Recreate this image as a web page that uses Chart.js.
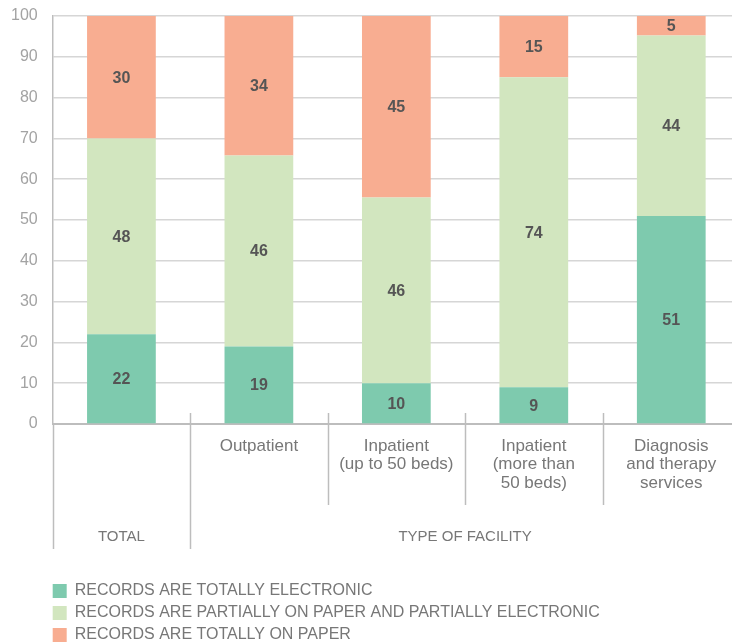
<!DOCTYPE html>
<html>
<head>
<meta charset="utf-8">
<title>Medical records by type of facility</title>
<script src="https://cdn.jsdelivr.net/npm/chart.js@4/dist/chart.umd.min.js"></script>
<style>
  html, body { margin: 0; padding: 0; background: #fff; overflow: hidden; }
  #chartArea { position: relative; width: 732px; height: 642px; overflow: hidden; }
  #myChart { position: absolute; left: 0; top: 0; }
</style>
</head>
<body>
<div id="chartArea"><canvas id="myChart" width="740" height="642"></canvas></div>
<script>
// ========================================
// Data
// ========================================
const categories = [
  '',
  'Outpatient',
  ['Inpatient', '(up to 50 beds)'],
  ['Inpatient', '(more than', '50 beds)'],
  ['Diagnosis', 'and therapy', 'services']
];

// group row under the tick labels
const groupLabels = ['TOTAL', 'TYPE OF FACILITY'];
const groupFrom = [0, 1];
const groupTo = [0, 4];

const seriesNames = [
  'RECORDS ARE TOTALLY ELECTRONIC',
  'RECORDS ARE PARTIALLY ON PAPER AND PARTIALLY ELECTRONIC',
  'RECORDS ARE TOTALLY ON PAPER'
];

// segment heights as drawn in the picture
const electronic = [22, 19, 10, 9, 51];
const partial = [48, 46.8, 45.5, 76, 44.2];
const paper = [30, 34.2, 44.5, 15, 4.8];

// numbers printed on the segments
const electronicLabels = [22, 19, 10, 9, 51];
const partialLabels = [48, 46, 46, 74, 44];
const paperLabels = [30, 34, 45, 15, 5];

const FONT = "'Liberation Sans', Arial, sans-serif";
const LINE = '#bdbdbd';

// ========================================
// Plugins
// ========================================
const valueLabels = {
  id: 'valueLabels',
  afterDatasetsDraw(chart) {
    const ctx = chart.ctx;
    ctx.save();
    ctx.font = 'bold 16px ' + FONT;
    ctx.fillStyle = '#555';
    ctx.textAlign = 'center';
    ctx.textBaseline = 'middle';
    chart.data.datasets.forEach((ds, di) => {
      chart.getDatasetMeta(di).data.forEach((bar, i) => {
        ctx.fillText(String(ds.printed[i]), bar.x, (bar.y + bar.base) / 2 + 1);
      });
    });
    ctx.restore();
  }
};

// separators below the axis + TOTAL / TYPE OF FACILITY row
const groupRow = {
  id: 'groupRow',
  afterDraw(chart) {
    const ctx = chart.ctx;
    const x = chart.scales.x;
    const area = chart.chartArea;
    const edge = i => i === 0 ? area.left : (x.getPixelForValue(i - 1) + x.getPixelForValue(i)) / 2;
    const groupStarts = groupFrom.map(edge);

    ctx.save();
    ctx.strokeStyle = LINE;
    ctx.lineWidth = 1.5;
    for (let i = 0; i < categories.length; i++) {
      const px = Math.round(edge(i)) + 0.5;
      const isGroupEdge = groupStarts.some(g => Math.abs(g - edge(i)) < 0.5);
      ctx.beginPath();
      ctx.moveTo(px, i === 0 ? area.bottom : area.bottom - 11);
      ctx.lineTo(px, isGroupEdge ? area.bottom + 125 : area.bottom + 81);
      ctx.stroke();
    }

    ctx.font = '15px ' + FONT;
    ctx.fillStyle = '#777';
    ctx.textAlign = 'center';
    ctx.textBaseline = 'middle';
    groupLabels.forEach((label, g) => {
      const left = edge(groupFrom[g]);
      const right = groupTo[g] + 1 < categories.length ? edge(groupTo[g] + 1) : x.right;
      ctx.fillText(label, (left + right) / 2, area.bottom + 113);
    });
    ctx.restore();
  }
};

// legend starts under the y axis instead of the canvas edge
const legendShift = {
  id: 'legendShift',
  afterLayout(chart) {
    const lg = chart.legend;
    const shift = chart.chartArea.left - lg.left - lg.options.labels.padding;
    lg.left += shift;
    lg.right += shift;
  }
};

// ========================================
// Chart
// ========================================
document.addEventListener('DOMContentLoaded', () => {
  const ctx = document.getElementById('myChart');

  new Chart(ctx, {
    type: 'bar',
    data: {
      labels: categories,
      datasets: [
        { label: seriesNames[0], data: electronic, printed: electronicLabels, backgroundColor: '#7ecaae' },
        { label: seriesNames[1], data: partial, printed: partialLabels, backgroundColor: '#d2e6bf' },
        { label: seriesNames[2], data: paper, printed: paperLabels, backgroundColor: '#f8ad91' }
      ]
    },
    options: {
      responsive: false,
      animation: false,
      layout: { padding: { top: 16, left: -4, right: 0, bottom: -11 } },
      datasets: {
        bar: { barPercentage: 0.5, categoryPercentage: 1, borderWidth: 0 }
      },
      scales: {
        x: {
          stacked: true,
          grid: { display: false, drawTicks: false },
          border: { display: true, color: LINE, width: 2 },
          ticks: { color: '#777', padding: 13, maxRotation: 0, font: { family: FONT, size: 17, lineHeight: 1.08 } },
          afterFit: axis => { axis.height = 153; }
        },
        y: {
          stacked: true,
          min: 0,
          max: 100,
          grid: { color: '#d6d6d6', lineWidth: 1.5, drawTicks: false },
          border: { display: true, color: LINE, width: 1.5 },
          // tiny lineHeight keeps the label half-height out of the top padding
          ticks: { stepSize: 10, color: '#a3a3a3', padding: 15, font: { family: FONT, size: 16, lineHeight: 0.1 } }
        }
      },
      plugins: {
        legend: {
          position: 'bottom',
          align: 'start',
          labels: {
            boxWidth: 14,
            boxHeight: 14,
            padding: 6,
            color: '#777',
            font: { family: FONT, size: 16 }
          }
        },
        tooltip: { enabled: false }
      }
    },
    plugins: [valueLabels, groupRow, legendShift]
  });
});
</script>
</body>
</html>
